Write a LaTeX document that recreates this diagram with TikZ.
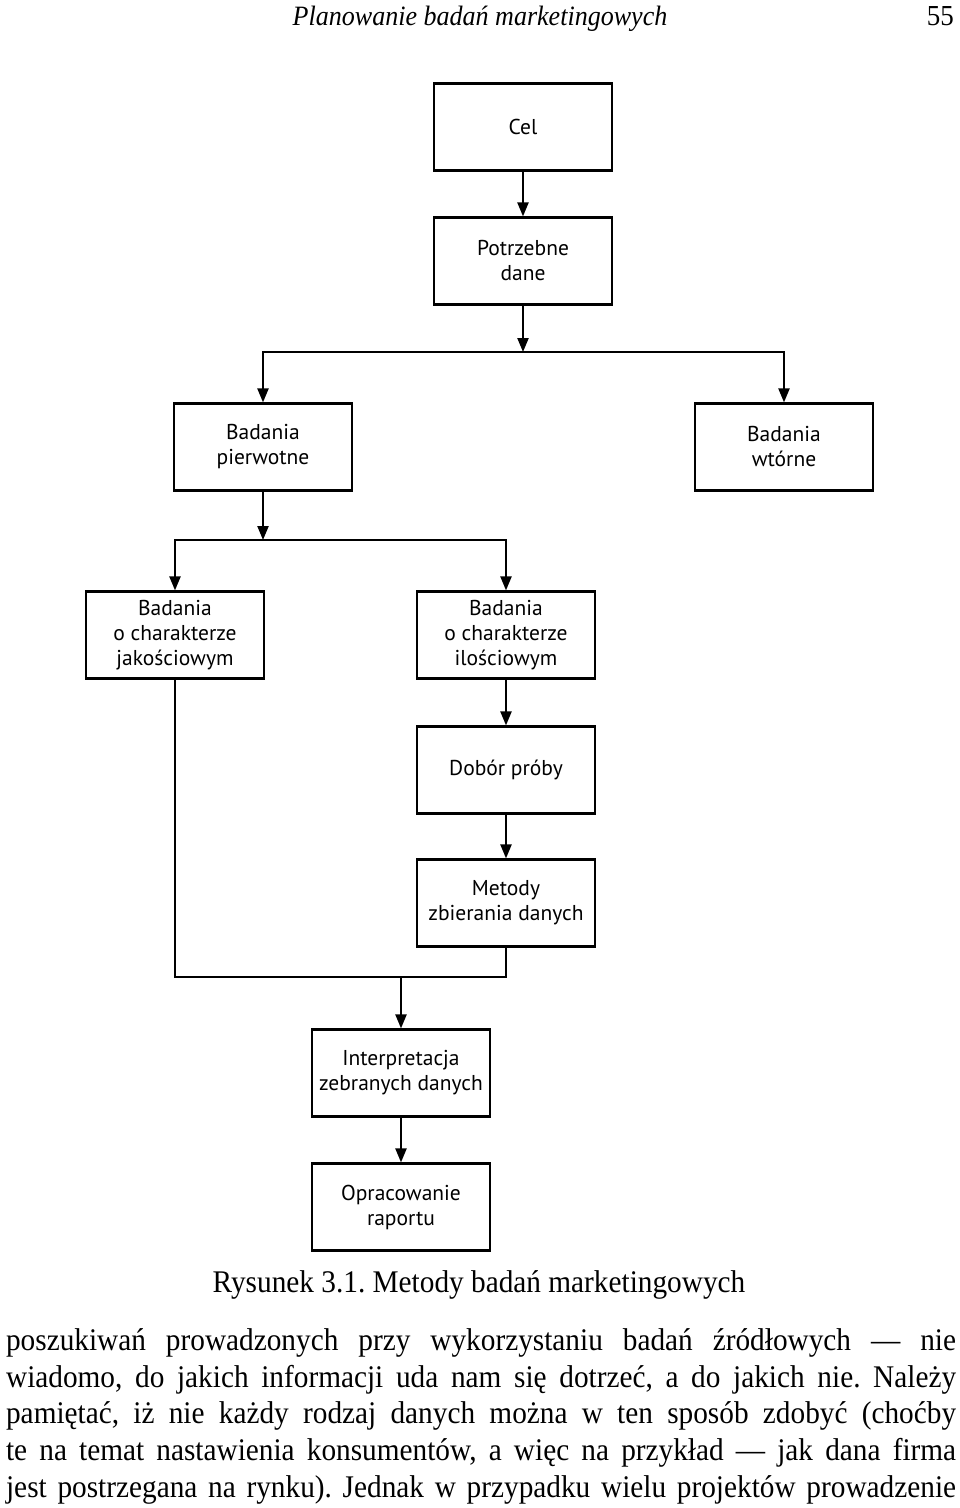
\documentclass[tikz,border=0pt]{standalone}
\usepackage{fontspec}
\usepackage{graphicx}
\setmainfont{Liberation Serif}[FakeStretch=0.93]
\newfontfamily\boxfont{PT Sans}
\usetikzlibrary{positioning,arrows.meta}
\frenchspacing
\newcommand\wiersz[1]{\sbox0{#1}\ifdim\wd0>950pt\resizebox{950pt}{\height}{#1}\else\makebox[950pt][s]{#1}\fi}

\begin{document}
\begin{tikzpicture}[x=1pt,y=1pt,line width=2.2pt,node distance=134pt,on grid,
    box/.style={draw,line width=2.2pt,minimum width=178pt,minimum height=87pt,align=center,
      font=\boxfont\fontsize{21.5}{25}\selectfont},
    arr/.style={-{Triangle[length=14pt,width=11pt]}},
    arrs/.style={{Triangle[length=14pt,width=11pt]}-{Triangle[length=14pt,width=11pt]}},
    body/.style={anchor=base west,inner sep=0pt,font=\fontsize{31.5}{36}\selectfont}]
  \useasboundingbox (0,0) rectangle (960,-1508);
  \node[anchor=base,inner sep=0pt,font=\itshape\fontsize{28}{30}\selectfont] (tytul) at (480,-25) {Planowanie badań marketingowych};
  \node[anchor=base east,inner sep=0pt,font=\fontsize{29}{30}\selectfont] (strona) at (955,-25) {55};

  \node[box]	(cel)	at (523,-127)	{Cel};
  \node[box]	(dane)	[below=of cel]	{Potrzebne\\dane};
  \node[box]	(pierw)	[below left=186pt and 260pt of dane]	{Badania\\pierwotne};
  \node[box]	(wtorne)	[right=521pt of pierw]	{Badania\\wtórne};
  \node[box]	(jakosc)	[below left=188pt and 88pt of pierw]	{Badania\\o charakterze\\jakościowym};
  \node[box]	(ilosc)	[right=331pt of jakosc]	{Badania\\o charakterze\\ilościowym};
  \node[box]	(dobor)	[below=135pt of ilosc]	{Dobór próby};
  \node[box]	(metody)	[below=133pt of dobor]	{Metody\\zbierania danych};
  \node[box]	(interp)	at (401,-1073)	{Interpretacja\\zebranych danych};
  \node[box]	(raport)	[below=of interp]	{Opracowanie\\raportu};

  \coordinate (s1) at (523,-352);
  \coordinate (s2) at (263,-540);
  \coordinate (s3) at (401,-977);

  \draw[arr] (dane) -- (s1);
  \draw[arrs] (pierw.north) |- (s1) -| (wtorne.north);
  \draw[arr] (pierw) -- (s2);
  \draw[arrs] (jakosc.north) |- (s2) -| (ilosc.north);
  \draw (jakosc.south) |- (s3) -| (metody.south);
  \draw[arr] (s3) -- (interp);
  \path[arr]
    (cel)	edge	(dane)
    (ilosc)	edge	(dobor)
    (dobor)	edge	(metody)
    (interp)	edge	(raport);

  \node[anchor=base,inner sep=0pt,font=\fontsize{31.5}{36}\selectfont] (podpis) at (479,-1292) {Rysunek 3.1. Metody badań marketingowych};
  \node[body] (w1) at (5,-1350) {\wiersz{poszukiwań prowadzonych przy wykorzystaniu badań źródłowych — nie}};
  \node[body] (w2) at (5,-1387) {\wiersz{wiadomo, do jakich informacji uda nam się dotrzeć, a do jakich nie. Należy}};
  \node[body] (w3) at (5,-1423) {\wiersz{pamiętać, iż nie każdy rodzaj danych można w ten sposób zdobyć (choćby}};
  \node[body] (w4) at (5,-1460) {\wiersz{te na temat nastawienia konsumentów, a więc na przykład — jak dana firma}};
  \node[body] (w5) at (5,-1497) {\wiersz{jest postrzegana na rynku). Jednak w przypadku wielu projektów prowadzenie}};
\end{tikzpicture}
\end{document}
